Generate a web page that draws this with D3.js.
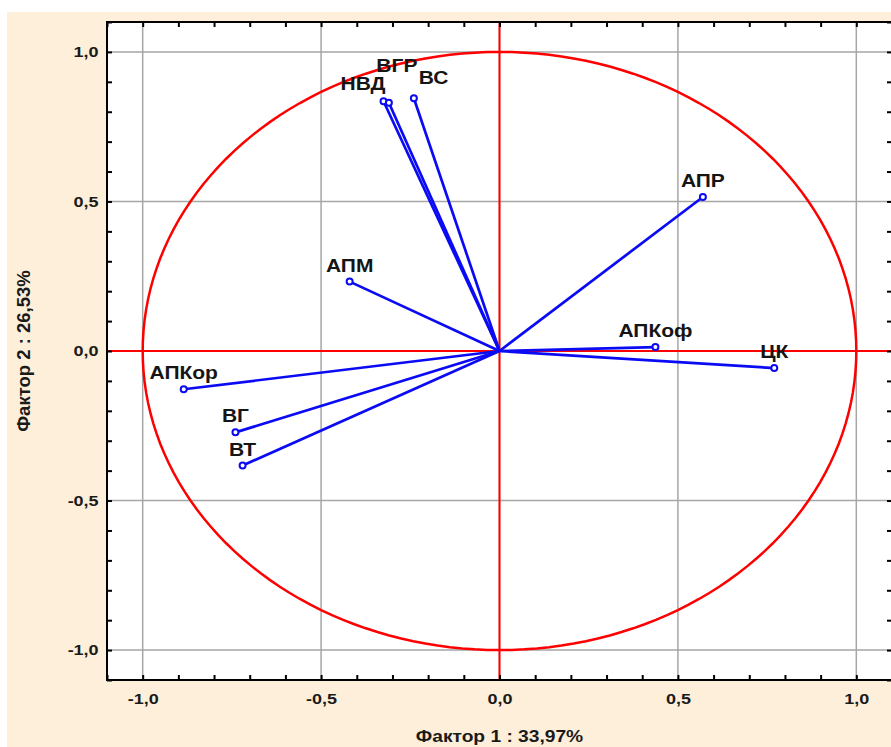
<!DOCTYPE html>
<html><head><meta charset="utf-8">
<script src="https://cdn.jsdelivr.net/npm/d3@7/dist/d3.min.js"></script>
<style>html,body{margin:0;padding:0;background:#fff;}svg{display:block;}</style>
</head><body>
<svg id="chart" width="891" height="747"></svg>
<script>
// ---- data ----
const labels = ["НВД", "ВГР", "ВС", "АПР", "АПМ", "АПКоф", "ЦК", "АПКор", "ВГ", "ВТ"];
const factor1 = [-0.325, -0.31, -0.24, 0.57, -0.42, 0.437, 0.77, -0.885, -0.74, -0.72];
const factor2 = [0.835, 0.83, 0.845, 0.515, 0.232, 0.013, -0.057, -0.128, -0.272, -0.383];
const xTickValues = [-1.0, -0.5, 0.0, 0.5, 1.0];
const yTickValues = [-1.0, -0.5, 0.0, 0.5, 1.0];
const xTitle = "Фактор 1 : 33,97%";
const yTitle = "Фактор 2 : 26,53%";

// label placement tweaks (layout only): [dx, dy, anchor]
const labelPlace = {
  "НВД": [2, -11, "end"],
  "ВГР": [8, -31, "middle"],
  "ВС": [5, -14, "start"]
};

const FONT = "Liberation Sans, Arial, sans-serif";
const SX = 1.2; // horizontal stretch of the original picture

const svg = d3.select("#chart");
svg.append("rect").attr("x", 7).attr("y", 12).attr("width", 884).attr("height", 735).attr("fill", "#fdefd9");

const x = d3.scaleLinear().domain([-1.1, 1.1]).range([107, 892]);
const y = d3.scaleLinear().domain([-1.1, 1.1]).range([680, 22]);
const fmt = v => d3.format(".1f")(v).replace(".", ",").replace("−", "-");

const L = x.range()[0], R = x.range()[1], T = y.range()[1], B = y.range()[0];
svg.append("rect").attr("x", L).attr("y", T).attr("width", R - L).attr("height", B - T).attr("fill", "#fff");

const g = svg.append("g");
// grid
g.selectAll(".gx").data(xTickValues).join("line")
  .attr("x1", d => x(d)).attr("x2", d => x(d)).attr("y1", T).attr("y2", B)
  .attr("stroke", "#a6a6a6").attr("stroke-width", 1.5);
g.selectAll(".gy").data(yTickValues).join("line")
  .attr("y1", d => y(d)).attr("y2", d => y(d)).attr("x1", L).attr("x2", R)
  .attr("stroke", "#a6a6a6").attr("stroke-width", 1.5);

// minor ticks via axes (inside)
const minor = d3.range(-11, 12).map(i => i / 10);
const axB = d3.axisBottom(x).tickValues(minor).tickSize(-5).tickFormat("");
const axT = d3.axisTop(x).tickValues(minor).tickSize(-5).tickFormat("");
const axL = d3.axisLeft(y).tickValues(minor).tickSize(-5).tickFormat("");
const axR = d3.axisRight(y).tickValues(minor).tickSize(-5).tickFormat("");
[[axB, `translate(0,${B})`], [axT, `translate(0,${T})`], [axL, `translate(${L},0)`], [axR, `translate(${R},0)`]].forEach(([a, t]) => {
  const ga = svg.append("g").attr("transform", t).call(a);
  ga.select(".domain").remove();
  ga.selectAll("line").attr("stroke", "#000").attr("stroke-width", 2);
});

// tick labels
svg.append("g").attr("transform", `translate(0,${B})`)
  .call(d3.axisBottom(x).tickValues(xTickValues).tickSize(0).tickPadding(13).tickFormat(fmt))
  .call(s => s.select(".domain").remove())
  .selectAll("text").attr("font-family", FONT).attr("font-weight", "bold").attr("font-size", 15).attr("fill", "#1a1a1a")
  .attr("transform", `scale(${SX},1)`);
svg.append("g").attr("transform", `translate(${L},0)`)
  .call(d3.axisLeft(y).tickValues(yTickValues).tickSize(0).tickPadding(7).tickFormat(fmt))
  .call(s => s.select(".domain").remove())
  .selectAll("text").attr("font-family", FONT).attr("font-weight", "bold").attr("font-size", 15).attr("fill", "#1a1a1a")
  .attr("transform", `scale(${SX},1)`);

// red unit circle and axes
const circ = d3.line().x(d => x(Math.cos(d))).y(d => y(Math.sin(d)));
g.append("path").datum(d3.range(0, 361, 2).map(a => a * Math.PI / 180))
  .attr("d", circ).attr("fill", "none").attr("stroke", "#f00").attr("stroke-width", 2.5);
g.append("line").attr("x1", L).attr("x2", R).attr("y1", y(0)).attr("y2", y(0)).attr("stroke", "#f00").attr("stroke-width", 2);
g.append("line").attr("y1", T).attr("y2", B).attr("x1", x(0)).attr("x2", x(0)).attr("stroke", "#f00").attr("stroke-width", 2);

// vectors
const pts = labels.map((l, i) => ({l, a: factor1[i], b: factor2[i]}));
g.selectAll(".vec").data(pts).join("line")
  .attr("x1", x(0)).attr("y1", y(0)).attr("x2", d => x(d.a)).attr("y2", d => y(d.b))
  .attr("stroke", "#0a0af5").attr("stroke-width", 2.7);
g.selectAll(".mk").data(pts).join("circle")
  .attr("cx", d => x(d.a)).attr("cy", d => y(d.b)).attr("r", 3)
  .attr("fill", "#fff").attr("stroke", "#0a0af5").attr("stroke-width", 2);
g.selectAll(".lb").data(pts).join("text")
  .attr("transform", d => {
    const p = labelPlace[d.l] || [0, -10, "middle"];
    return `translate(${x(d.a) + p[0]},${y(d.b) + p[1]}) scale(${SX},1)`;
  })
  .attr("text-anchor", d => (labelPlace[d.l] || [0, -10, "middle"])[2])
  .attr("font-family", FONT).attr("font-weight", "bold").attr("font-size", 17.5).attr("fill", "#151515")
  .text(d => d.l);

// frame
svg.append("rect").attr("x", L).attr("y", T).attr("width", R - L).attr("height", B - T)
  .attr("fill", "none").attr("stroke", "#000").attr("stroke-width", 2);

// titles
svg.append("text").attr("transform", `translate(${x(0)},742) scale(${SX},1)`).attr("text-anchor", "middle")
  .attr("font-family", FONT).attr("font-weight", "bold").attr("font-size", 16).attr("fill", "#1a1a1a").text(xTitle);
svg.append("text").attr("transform", `translate(30,${y(0)}) rotate(-90)`).attr("text-anchor", "middle")
  .attr("font-family", FONT).attr("font-weight", "bold").attr("font-size", 18.5).attr("fill", "#1a1a1a").text(yTitle);
</script>
</body></html>
